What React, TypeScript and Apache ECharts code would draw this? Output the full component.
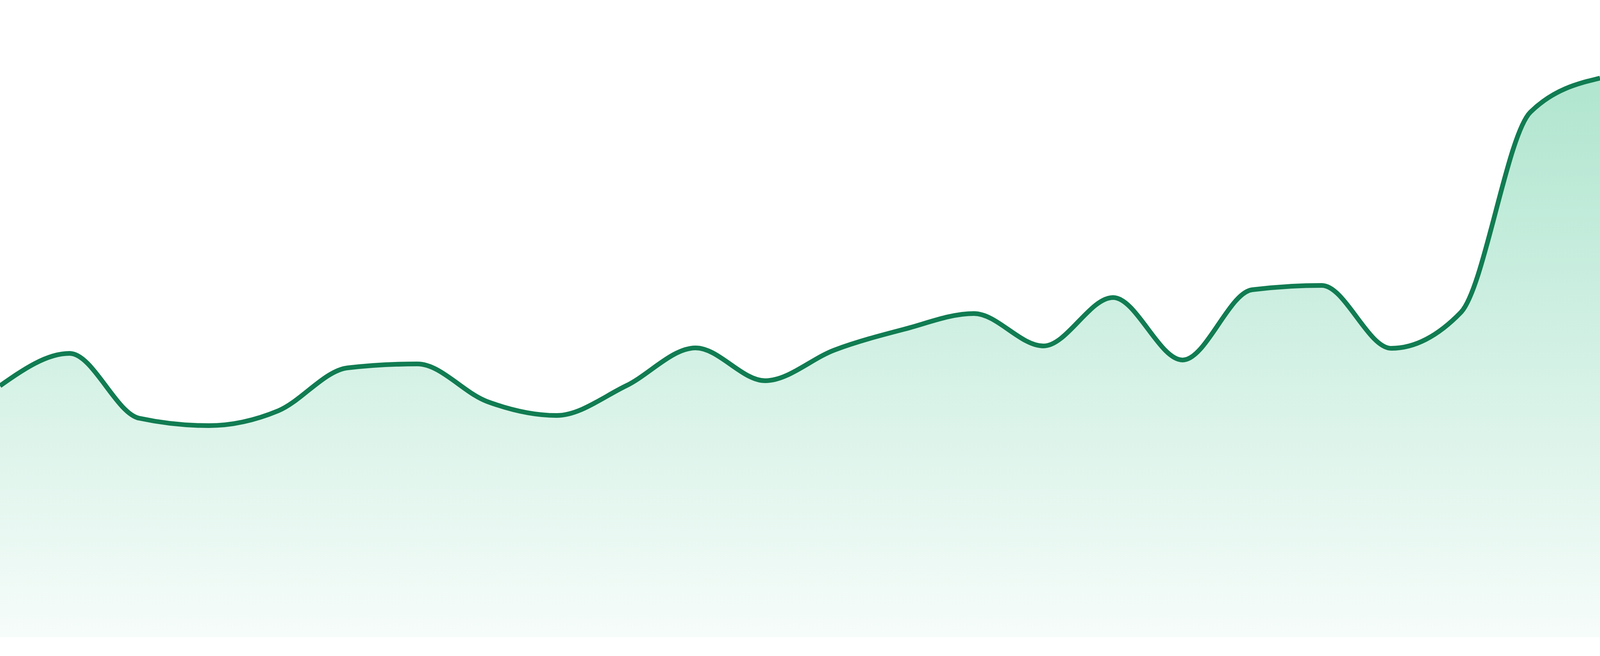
import * as echarts from 'echarts';
import { useEffect, useRef } from 'react';

// x categories (no labels shown on the chart)
const days = [
  'D01', 'D02', 'D03', 'D04', 'D05', 'D06', 'D07', 'D08',
  'D09', 'D10', 'D11', 'D12', 'D13', 'D14', 'D15', 'D16',
  'D17', 'D18', 'D19', 'D20', 'D21', 'D22', 'D23', 'D24',
];

const values = [
  64.4, 72.7, 56.1, 54.2, 58.0, 69.0, 70.0, 60.4,
  56.8, 64.4, 74.1, 65.7, 73.6, 78.9, 82.9, 74.6,
  87.0, 71.0, 89.0, 90.1, 74.0, 83.2, 134.5, 143.2,
];

const yMin = 0;
const yMax = 160;

// monotone cubic tangents (same rule as d3.curveMonotoneX)
const sign = (x: number) => (x < 0 ? -1 : 1);
function monotonePath(pts: number[][]): string {
  const n = pts.length;
  const h: number[] = [];
  const s: number[] = [];
  for (let i = 0; i < n - 1; i++) {
    h[i] = pts[i + 1][0] - pts[i][0];
    s[i] = (pts[i + 1][1] - pts[i][1]) / h[i];
  }
  const t: number[] = new Array(n).fill(0);
  for (let i = 1; i < n - 1; i++) {
    const p = (s[i - 1] * h[i] + s[i] * h[i - 1]) / (h[i - 1] + h[i]);
    t[i] = (sign(s[i - 1]) + sign(s[i])) *
      Math.min(Math.abs(s[i - 1]), Math.abs(s[i]), 0.5 * Math.abs(p)) || 0;
  }
  t[0] = (3 * s[0] - t[1]) / 2;
  t[n - 1] = (3 * s[n - 2] - t[n - 2]) / 2;

  let d = `M${pts[0][0]},${pts[0][1]}`;
  for (let i = 0; i < n - 1; i++) {
    const dx = h[i] / 3;
    const [x0, y0] = pts[i];
    const [x1, y1] = pts[i + 1];
    d += `C${x0 + dx},${y0 + dx * t[i]},${x1 - dx},${y1 - dx * t[i + 1]},${x1},${y1}`;
  }
  return d;
}

const App = () => {
  const chartRef = useRef<HTMLDivElement>(null);

  useEffect(() => {
    if (!chartRef.current) return;
    const chart = echarts.init(chartRef.current, undefined, { renderer: 'svg' });

    const option: echarts.EChartsOption = {
      animation: false,
      backgroundColor: '#ffffff',
      grid: { left: 0, right: 0, top: '1.905%', bottom: '2.857%' },
      xAxis: {
        type: 'category',
        data: days,
        boundaryGap: false,
        show: false,
      },
      yAxis: {
        type: 'value',
        min: yMin,
        max: yMax,
        show: false,
      },
      series: [
        {
          type: 'custom',
          data: values.map((v, i) => [i, v]),
          encode: { x: 0, y: 1 },
          clip: false,
          renderItem: (params: any, api: any) => {
            if (params.dataIndex !== 0) return null;
            const pts = values.map((v, i) => api.coord([i, v]));
            const base = api.coord([0, yMin])[1];
            const line = monotonePath(pts);
            const last = pts[pts.length - 1];
            const area = `${line}L${last[0]},${base}L${pts[0][0]},${base}Z`;
            return {
              type: 'group',
              children: [
                {
                  type: 'path',
                  shape: { pathData: area },
                  style: {
                    fill: new echarts.graphic.LinearGradient(0, 0, 0, 1, [
                      { offset: 0, color: 'rgba(30, 182, 120, 0.35)' },
                      { offset: 1, color: 'rgba(30, 182, 120, 0.04)' },
                    ]),
                    stroke: 'none',
                  },
                },
                {
                  type: 'path',
                  shape: { pathData: line },
                  style: {
                    fill: 'none',
                    stroke: '#117c52',
                    lineWidth: 12,
                    lineJoin: 'round',
                  },
                },
              ],
            };
          },
        },
      ],
    };

    chart.setOption(option);
    const handleResize = () => chart.resize();
    window.addEventListener('resize', handleResize);
    return () => {
      chart.dispose();
      window.removeEventListener('resize', handleResize);
    };
  }, []);

  return (
    <div
      ref={chartRef}
      style={{ position: 'fixed', left: 0, top: 0, width: '100vw', height: '100vh' }}
    />
  );
};

export default App;
